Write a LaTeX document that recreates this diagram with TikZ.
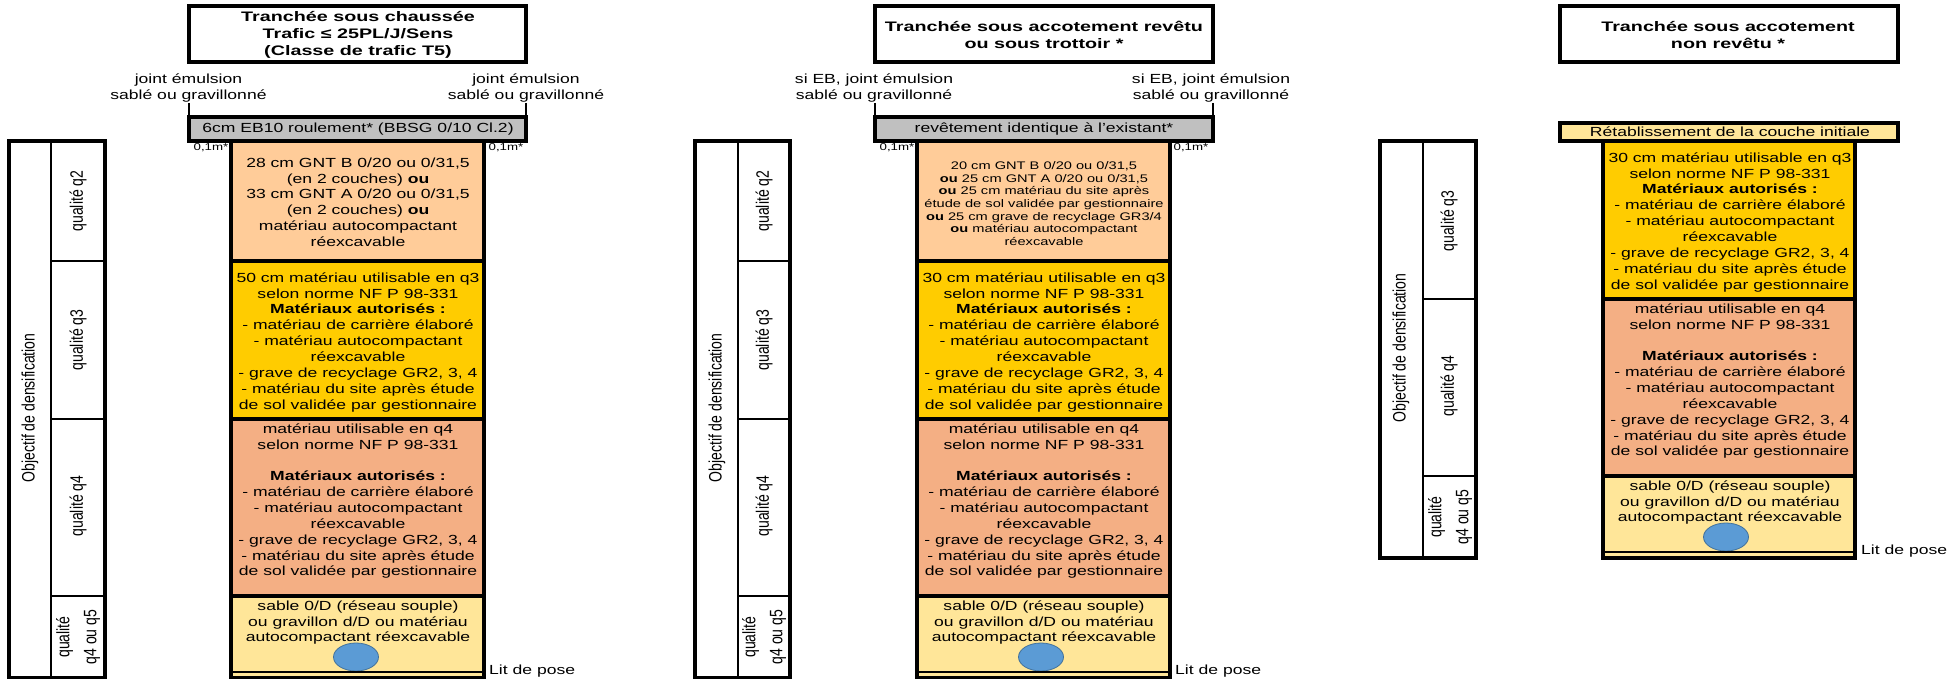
\documentclass[tikz,border=0pt]{standalone}
\usepackage{fontspec}
\setmainfont[FakeStretch=1.33]{Liberation Sans}
\newfontfamily\vfont[FakeStretch=0.78]{Liberation Sans}
\newfontfamily\tfont[FakeStretch=1.43]{Liberation Sans}
\definecolor{cgrey}{HTML}{C0C0C0}
\definecolor{cqtwo}{HTML}{FFCC99}
\definecolor{cqthree}{HTML}{FFCC00}
\definecolor{cqfour}{HTML}{F4AF84}
\definecolor{csand}{HTML}{FFE699}
\definecolor{cpipe}{HTML}{5B9BD5}
\definecolor{cpipeb}{HTML}{41719C}
\newcommand{\fl}{\rule{0pt}{10pt}}
\newcommand{\qthreetxt}[1]{\fl #1 cm matériau utilisable en q3\\selon norme NF P 98-331\\\textbf{Matériaux autorisés :}\\- matériau de carrière élaboré\\- matériau autocompactant\\réexcavable\\- grave de recyclage GR2, 3, 4\\- matériau du site après étude\\de sol validée par gestionnaire}
\newcommand{\qfourtxt}{\fl matériau utilisable en q4\\selon norme NF P 98-331\\\mbox{}\\\textbf{Matériaux autorisés :}\\- matériau de carrière élaboré\\- matériau autocompactant\\réexcavable\\- grave de recyclage GR2, 3, 4\\- matériau du site après étude\\de sol validée par gestionnaire}
\newcommand{\sandtxt}{\fl sable 0/D (réseau souple)\\ou gravillon d/D ou matériau\\autocompactant réexcavable}
\tikzset{
  thickbox/.style={draw=black,line width=3.2pt},
  thinline/.style={draw=black,line width=2pt},
  tick/.style={draw=black,line width=1.6pt},
  body/.style={inner sep=0pt,align=center,anchor=north,font=\fontsize{13.2}{15.85}\selectfont},
  small/.style={inner sep=0pt,align=center,anchor=north,font=\fontsize{11}{12.6}\selectfont},
  titletxt/.style={inner sep=0pt,align=center,font=\tfont\fontsize{13.8}{17}\selectfont\bfseries},
  side/.style={inner sep=0pt,align=center,font=\fontsize{13.2}{15.85}\selectfont},
  tiny/.style={inner sep=0pt,font=\fontsize{10}{12}\selectfont},
  litlabel/.style={inner sep=0pt,anchor=west,font=\fontsize{13.2}{15.85}\selectfont},
  rot/.style={inner sep=0pt,align=center,rotate=90,font=\vfont\fontsize{18}{27}\selectfont},
  pipe/.style={fill=cpipe,draw=cpipeb,line width=0.8pt},
}
\begin{document}
\begin{tikzpicture}[x=1pt,y=-1pt]
\useasboundingbox (0,0) rectangle (1957,679);
\fill[white] (0,0) rectangle (1957,679);

%% ---------- Panel 1
\coordinate (a1l) at (189,103); \coordinate (a1lb) at (189,117);
\coordinate (a1r) at (526,103); \coordinate (a1rb) at (526,117);
\draw[tick] (a1l) -- (a1lb); \draw[tick] (a1r) -- (a1rb);
\draw[thickbox,fill=white] (189,6) rectangle (526,62);
\node[titletxt] (a1title) at (358,34.5) {Tranchée sous chaussée\\Trafic ≤ 25PL/J/Sens\\(Classe de trafic T5)};
\node[side] (a1lab) at (188.5,88) {joint émulsion\\sablé ou gravillonné};
\node[side] (a1rab) at (526,88) {joint émulsion\\sablé ou gravillonné};
\draw[thickbox,fill=cgrey] (189,117) rectangle (526,141);
\node[side] (a1bar) at (358,129) {6cm EB10 roulement* (BBSG 0/10 Cl.2)};
\node[tiny] (a1tl) at (211,148) {0,1m*};
\node[tiny] (a1tr) at (506,148) {0,1m*};
\fill[cqtwo] (231,141) rectangle (484,261);
\fill[cqthree] (231,261) rectangle (484,419);
\fill[cqfour] (231,419) rectangle (484,596);
\fill[csand] (231,596) rectangle (484,678);
\draw[pipe] (356,657) ellipse [x radius=22.5,y radius=14];
\draw[thickbox] (231,141) rectangle (484,678);
\draw[thickbox] (231,261) -- (484,261) (231,419) -- (484,419) (231,596) -- (484,596);
\draw[thinline] (231,672) -- (484,672);
\node[body] (a1q2) at (358,157) {\fl 28 cm GNT B 0/20 ou 0/31,5\\(en 2 couches) \textbf{ou}\\33 cm GNT A 0/20 ou 0/31,5\\(en 2 couches) \textbf{ou}\\matériau autocompactant\\réexcavable};
\node[body] (a1q3) at (358,272) {\qthreetxt{50}};
\node[body] (a1q4) at (358,423) {\qfourtxt};
\node[body] (a1s) at (358,600) {\sandtxt};
\node[litlabel] (a1lit) at (489,671) {Lit de pose};
\draw[thickbox] (9,141) rectangle (105,678);
\draw[thinline] (51,141) -- (51,678) (51,261) -- (105,261) (51,419) -- (105,419) (51,596) -- (105,596);
\node[rot] (a1obj) at (30,408) {Objectif de densification};
\node[rot] (a1l2) at (78,201) {qualité q2};
\node[rot] (a1l3) at (78,340) {qualité q3};
\node[rot] (a1l4) at (78,506) {qualité q4};
\node[rot] (a1l5) at (78,637) {qualité\\q4 ou q5};

%% ---------- Panel 2
\coordinate (a2l) at (875,103); \coordinate (a2lb) at (875,117);
\coordinate (a2r) at (1213,103); \coordinate (a2rb) at (1213,117);
\draw[tick] (a2l) -- (a2lb); \draw[tick] (a2r) -- (a2rb);
\draw[thickbox,fill=white] (875,6) rectangle (1213,62);
\node[titletxt] (a2title) at (1044,35) {Tranchée sous accotement revêtu\\ou sous trottoir *};
\node[side] (a2lab) at (874,88) {si EB, joint émulsion\\sablé ou gravillonné};
\node[side] (a2rab) at (1211,88) {si EB, joint émulsion\\sablé ou gravillonné};
\draw[thickbox,fill=cgrey] (875,117) rectangle (1213,141);
\node[side] (a2bar) at (1044,129) {revêtement identique à l'existant*};
\node[tiny] (a2tl) at (897,148) {0,1m*};
\node[tiny] (a2tr) at (1191,148) {0,1m*};
\fill[cqtwo] (917,141) rectangle (1170,261);
\fill[cqthree] (917,261) rectangle (1170,419);
\fill[cqfour] (917,419) rectangle (1170,596);
\fill[csand] (917,596) rectangle (1170,678);
\draw[pipe] (1041,657) ellipse [x radius=22.5,y radius=14];
\draw[thickbox] (917,141) rectangle (1170,678);
\draw[thickbox] (917,261) -- (1170,261) (917,419) -- (1170,419) (917,596) -- (1170,596);
\draw[thinline] (917,672) -- (1170,672);
\node[small] (a2q2) at (1044,159.5) {\fl 20 cm GNT B 0/20 ou 0/31,5\\\textbf{ou} 25 cm GNT A 0/20 ou 0/31,5\\\textbf{ou} 25 cm matériau du site après\\étude de sol validée par gestionnaire\\\textbf{ou} 25 cm grave de recyclage GR3/4\\\textbf{ou} matériau autocompactant\\réexcavable};
\node[body] (a2q3) at (1044,272) {\qthreetxt{30}};
\node[body] (a2q4) at (1044,423) {\qfourtxt};
\node[body] (a2s) at (1044,600) {\sandtxt};
\node[litlabel] (a2lit) at (1175,671) {Lit de pose};
\draw[thickbox] (695,141) rectangle (790,678);
\draw[thinline] (738,141) -- (738,678) (738,261) -- (790,261) (738,419) -- (790,419) (738,596) -- (790,596);
\node[rot] (a2obj) at (717,408) {Objectif de densification};
\node[rot] (a2l2) at (764,201) {qualité q2};
\node[rot] (a2l3) at (764,340) {qualité q3};
\node[rot] (a2l4) at (764,506) {qualité q4};
\node[rot] (a2l5) at (764,637) {qualité\\q4 ou q5};

%% ---------- Panel 3
\draw[thickbox,fill=white] (1560,6) rectangle (1898,62);
\node[titletxt] (a3title) at (1728,35) {Tranchée sous accotement\\non revêtu *};
\draw[thickbox,fill=csand] (1560,123) rectangle (1898,141);
\node[side] (a3bar) at (1730,132) {Rétablissement de la couche initiale};
\fill[cqthree] (1603,141) rectangle (1855,299);
\fill[cqfour] (1603,299) rectangle (1855,476);
\fill[csand] (1603,476) rectangle (1855,558);
\draw[pipe] (1726,537) ellipse [x radius=22.5,y radius=14];
\draw[thickbox] (1603,141) rectangle (1855,558);
\draw[thickbox] (1603,299) -- (1855,299) (1603,476) -- (1855,476);
\draw[thinline] (1603,552) -- (1855,552);
\node[body] (a3q3) at (1730,152) {\qthreetxt{30}};
\node[body] (a3q4) at (1730,303) {\qfourtxt};
\node[body] (a3s) at (1730,480) {\sandtxt};
\node[litlabel] (a3lit) at (1861,551) {Lit de pose};
\draw[thickbox] (1380,141) rectangle (1476,558);
\draw[thinline] (1423,141) -- (1423,558) (1423,299) -- (1476,299) (1423,476) -- (1476,476);
\node[rot] (a3obj) at (1401,348) {Objectif de densification};
\node[rot] (a3l3) at (1449,221) {qualité q3};
\node[rot] (a3l4) at (1449,386) {qualité q4};
\node[rot] (a3l5) at (1450,517) {qualité\\q4 ou q5};
\end{tikzpicture}
\end{document}
